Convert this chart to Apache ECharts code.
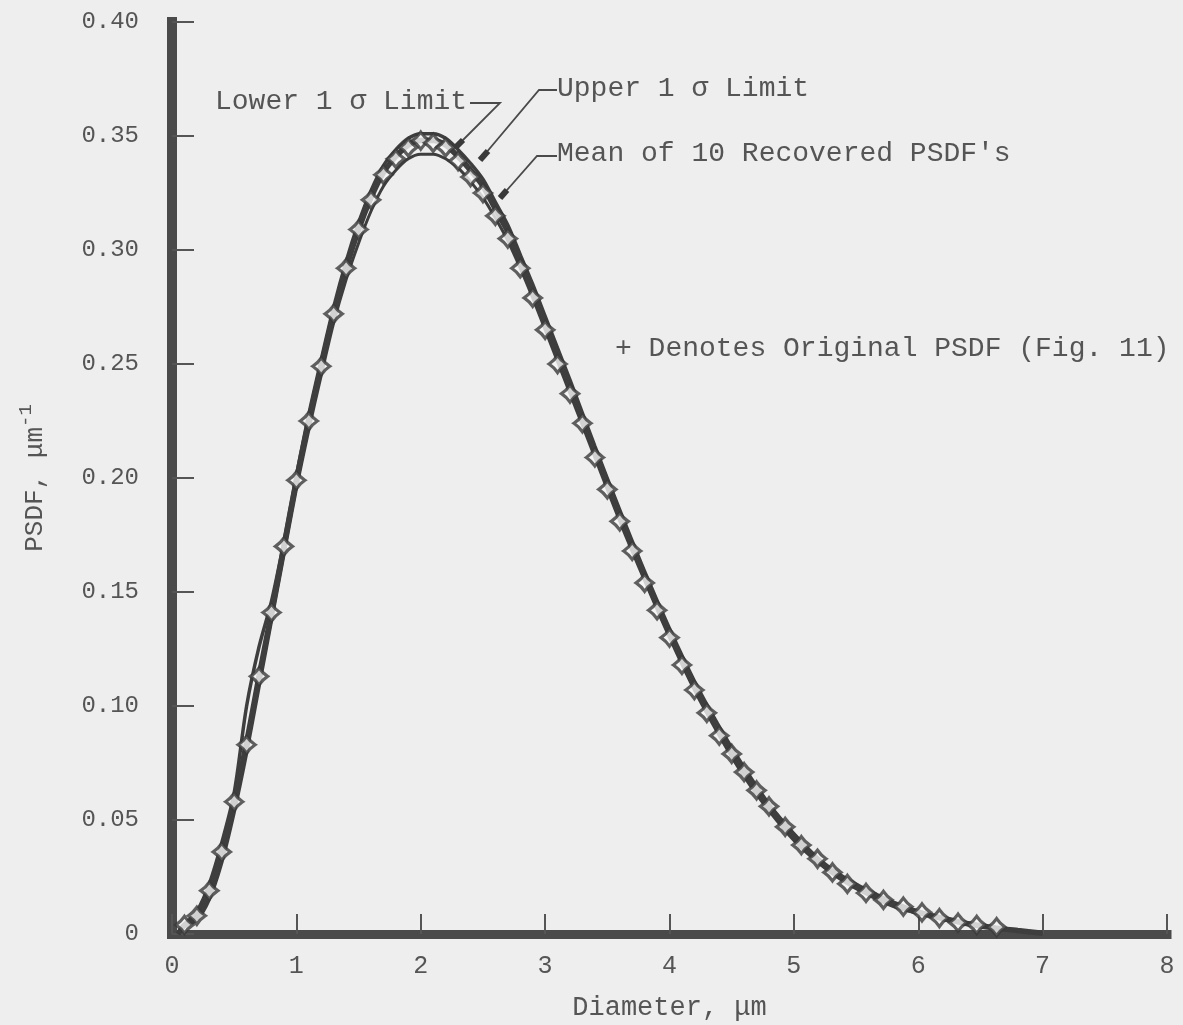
<!DOCTYPE html>
<html><head><meta charset="utf-8">
<script src="https://cdn.jsdelivr.net/npm/echarts@6/dist/echarts.min.js"></script>
<style>html,body{margin:0;padding:0;background:#eeeeee;}#c{width:1183px;height:1025px;}</style>
</head><body><div id="c"></div>
<script>
// Original PSDF (marker points)
const origX = [0.1,0.2,0.3,0.4,0.5,0.6,0.7,0.8,0.9,1.0,1.1,1.2,1.3,1.4,1.5,1.6,1.7,1.8,1.9,2.0,2.1,2.2,2.3,2.4,2.5,2.6,2.7,2.8,2.9,3.0,3.1,3.2,3.3,3.4,3.5,3.6,3.7,3.8,3.9,4.0,4.1,4.2,4.3,4.4,4.5,4.6,4.7,4.8,4.93,5.06,5.19,5.31,5.43,5.58,5.72,5.88,6.03,6.17,6.32,6.47,6.63];
const origY = [0.004,0.008,0.019,0.036,0.058,0.083,0.113,0.141,0.170,0.199,0.225,0.249,0.272,0.292,0.309,0.322,0.333,0.340,0.345,0.348,0.347,0.345,0.339,0.332,0.325,0.315,0.305,0.292,0.279,0.265,0.250,0.237,0.224,0.209,0.195,0.181,0.168,0.154,0.142,0.130,0.118,0.107,0.097,0.087,0.079,0.071,0.063,0.056,0.047,0.039,0.033,0.027,0.022,0.018,0.015,0.012,0.0095,0.007,0.005,0.004,0.003];
// Recovered curves
const curveX = [0.05,0.1,0.2,0.3,0.4,0.5,0.6,0.7,0.8,0.9,1.0,1.1,1.2,1.3,1.4,1.5,1.6,1.7,1.8,1.9,2.0,2.1,2.2,2.3,2.4,2.5,2.6,2.7,2.8,2.9,3.0,3.2,3.4,3.6,3.8,4.0,4.2,4.4,4.6,4.8,5.0,5.2,5.4,5.6,5.8,6.0,6.2,6.4,6.6,6.8,7.0];
const meanY = [0,0.004,0.008,0.019,0.036,0.058,0.084,0.113,0.141,0.170,0.199,0.225,0.249,0.272,0.292,0.309,0.323,0.334,0.341,0.346,0.348,0.348,0.346,0.341,0.335,0.328,0.318,0.308,0.295,0.282,0.268,0.240,0.212,0.184,0.157,0.132,0.109,0.089,0.071,0.056,0.043,0.032,0.024,0.018,0.013,0.0095,0.0068,0.0045,0.0028,0.0015,0.0003];
const upperY = [0,0.004,0.010,0.022,0.040,0.062,0.100,0.126,0.146,0.172,0.201,0.228,0.252,0.275,0.295,0.312,0.326,0.337,0.344,0.349,0.351,0.351,0.349,0.344,0.338,0.331,0.321,0.311,0.298,0.285,0.271,0.243,0.214,0.186,0.159,0.134,0.111,0.091,0.073,0.057,0.044,0.033,0.025,0.019,0.014,0.010,0.0072,0.0048,0.003,0.0016,0.0004];
const lowerY = [0,0.003,0.006,0.015,0.031,0.053,0.079,0.108,0.137,0.166,0.195,0.221,0.245,0.268,0.287,0.303,0.317,0.328,0.335,0.340,0.342,0.342,0.340,0.336,0.330,0.323,0.314,0.304,0.292,0.279,0.265,0.237,0.209,0.181,0.155,0.130,0.107,0.087,0.069,0.054,0.041,0.031,0.023,0.017,0.012,0.009,0.0063,0.0042,0.0026,0.0014,0.0003];

const zip = (xs, ys) => xs.map((x, i) => [x, ys[i]]);
const FONT = "'Liberation Mono', 'DejaVu Sans Mono', monospace";
const INK = '#3e3e3e';
const TXT = '#555555';

const chart = echarts.init(document.getElementById('c'), null, {renderer: 'canvas'});
const lineBase = {type: 'line', showSymbol: false, smooth: 0.3, silent: true, z: 2};
chart.setOption({
  backgroundColor: '#eeeeee',
  animation: false,
  grid: {left: 172, right: 16, top: 22, bottom: 91, containLabel: false, outerBoundsMode: 'none'},
  xAxis: {
    type: 'value', min: 0, max: 8, interval: 1,
    name: 'Diameter, μm', nameLocation: 'middle', nameGap: 60,
    nameTextStyle: {fontFamily: FONT, fontSize: 27, color: TXT},
    axisLine: {lineStyle: {color: '#4a4a4a', width: 9, cap: 'square'}},
    axisTick: {inside: true, length: 20, lineStyle: {color: '#555', width: 2}},
    axisLabel: {margin: 20, fontFamily: FONT, fontSize: 25, color: TXT},
    splitLine: {show: false}
  },
  yAxis: {
    type: 'value', min: 0, max: 0.4, interval: 0.05,
    name: '{a|PSDF, μm}{s|-1}', nameLocation: 'middle', nameGap: 124, nameRotate: 90,
    nameTextStyle: {rich: {
      a: {fontFamily: FONT, fontSize: 26, color: TXT, verticalAlign: 'bottom', lineHeight: 32},
      s: {fontFamily: FONT, fontSize: 19, color: TXT, verticalAlign: 'top', lineHeight: 32}
    }},
    axisLine: {lineStyle: {color: '#4a4a4a', width: 10, cap: 'square'}},
    axisTick: {inside: true, length: 22, lineStyle: {color: '#555', width: 2}},
    axisLabel: {margin: 33, fontFamily: FONT, fontSize: 24, color: TXT,
      formatter: v => v === 0 ? '0' : v.toFixed(2)},
    splitLine: {show: false}
  },
  series: [
    Object.assign({}, lineBase, {name: 'Lower 1 σ Limit', data: zip(curveX, lowerY), lineStyle: {color: INK, width: 3}}),
    Object.assign({}, lineBase, {name: 'Upper 1 σ Limit', data: zip(curveX, upperY), lineStyle: {color: INK, width: 3.5}}),
    Object.assign({}, lineBase, {name: 'Mean of 10 Recovered PSDF\'s', data: zip(curveX, meanY), lineStyle: {color: INK, width: 5.5}}),
    {
      name: 'Original PSDF', type: 'scatter', z: 5, silent: true,
      data: zip(origX, origY),
      symbol: 'path://M0,-10 Q4,-4 10,0 Q4,4 0,10 Q-4,4 -10,0 Q-4,-4 0,-10Z',
      symbolSize: 17,
      itemStyle: {color: '#f6f6f6', borderColor: '#3a3a3a', borderWidth: 3.2}
    }
  ],
  graphic: [
    {type: 'text', left: 215, top: 88, style: {text: 'Lower 1 σ Limit', font: "28px " + FONT, fill: TXT}},
    {type: 'text', left: 557, top: 75, style: {text: 'Upper 1 σ Limit', font: "28px " + FONT, fill: TXT}},
    {type: 'text', left: 557, top: 140, style: {text: "Mean of 10 Recovered PSDF's", font: "28px " + FONT, fill: TXT}},
    {type: 'text', left: 615, top: 335, style: {text: '+ Denotes Original PSDF (Fig. 11)', font: "28px " + FONT, fill: TXT}},
    {type: 'polyline', shape: {points: [[470,103],[500,103],[457,146]]}, style: {stroke: '#4a4a4a', lineWidth: 1.8, fill: null}, z: 10},
    {type: 'polyline', shape: {points: [[463,140],[456,147]]}, style: {stroke: '#3a3a3a', lineWidth: 6, fill: null}, z: 10},
    {type: 'polyline', shape: {points: [[557,90],[539,90],[480,160]]}, style: {stroke: '#4a4a4a', lineWidth: 1.8, fill: null}, z: 10},
    {type: 'polyline', shape: {points: [[488,151],[480,160]]}, style: {stroke: '#3a3a3a', lineWidth: 6, fill: null}, z: 10},
    {type: 'polyline', shape: {points: [[557,156],[537,156],[500,198]]}, style: {stroke: '#4a4a4a', lineWidth: 1.8, fill: null}, z: 10},
    {type: 'polyline', shape: {points: [[507,190],[500,198]]}, style: {stroke: '#3a3a3a', lineWidth: 6, fill: null}, z: 10}
  ]
});
</script>
</body></html>
